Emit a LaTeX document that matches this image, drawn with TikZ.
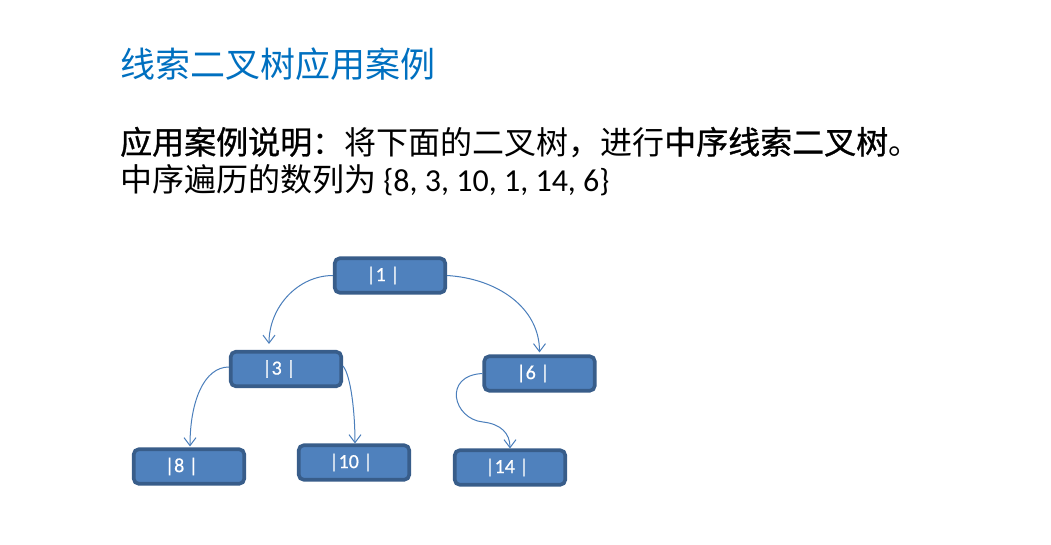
\documentclass[tikz,border=0pt]{standalone}
\usepackage{fontspec}
\setmainfont{Carlito}
\newfontfamily\cjk{Noto Sans CJK SC}
\newfontfamily\cjkb{Noto Sans CJK SC}[FakeBold=0.9]
\newfontfamily\boxfont{Carlito}[FakeBold=0.6]
\usetikzlibrary{arrows.meta,calc}
\definecolor{boxfill}{HTML}{4F81BD}
\definecolor{boxline}{HTML}{385D8A}
\definecolor{arrowc}{HTML}{4A7EBB}
\definecolor{titlec}{HTML}{0070C0}
\begin{document}
\begin{tikzpicture}[x=1pt,y=-1pt,
 treebox/.style={draw=boxline,fill=boxfill,line width=3.6pt,rounded corners=5pt,minimum width=110.5pt,minimum height=34.5pt,inner sep=0pt,text=white,font=\boxfont\fontsize{20}{20}\selectfont},
 link/.style={draw=arrowc,line width=1pt,-{Straight Barb[length=8pt,width=12pt]}},
 txt/.style={anchor=base west,inner sep=0pt}]
\fill[white] (0,0) rectangle (1051,544);
\useasboundingbox (0,0) rectangle (1051,544);
% texts
\node[txt,text=titlec,font=\cjk\fontsize{35}{35}\selectfont] (title) at (120,77) {线索二叉树应用案例};
\node[txt,font=\fontsize{32}{32}\selectfont] (l1) at (120,154) {{\cjkb 应用案例说明}{\cjk ：将下面的二叉树，进行}{\cjkb 中序线索二叉树}{\cjk 。}};
\node[txt,font=\fontsize{32}{32}\selectfont] (l2) at (120,191) {{\cjk 中序遍历的数列为} \{8, 3, 10, 1, 14, 6\}};
% tree nodes
\node[treebox] (n1) at (390,275.5) {|1 |\kern14pt};
\node[treebox] (n3) at (286,369) {|3 |\kern14pt};
\node[treebox] (n6) at (539.5,373.5) {|6 |\kern13pt};
\node[treebox] (n8) at (189,466.5) {|8 |\kern15pt};
\node[treebox] (n10) at (354,462.5) {|10 |\kern6pt};
\node[treebox] (n14) at (510,467.5) {|14 |\kern6pt};
\coordinate (m5) at (483,422);
% connectors
\draw[link] (n1.west) .. controls +(-35,0) and +(0,-37) .. ([shift={(-17,-6)}]n3.north);
\draw[link] (n1.east) .. controls +(50,3) and +(0,-45) .. ([shift={(0,-2)}]n6.north);
\draw[link] ([yshift=2pt]n3.west) .. controls +(-25,0) and +(0,-45) .. ([shift={(1,-1)}]n8.north);
\draw[link] ([yshift=3pt]n3.east) .. controls +(8,10) and +(0,-30) .. ([shift={(1,0)}]n10.north);
\draw[link] (n6.west) .. controls +(-40,2) and +(-30,-3) .. (m5) .. controls +(18,2) and +(0,-15) .. (n14.north);
\end{tikzpicture}
\end{document}
